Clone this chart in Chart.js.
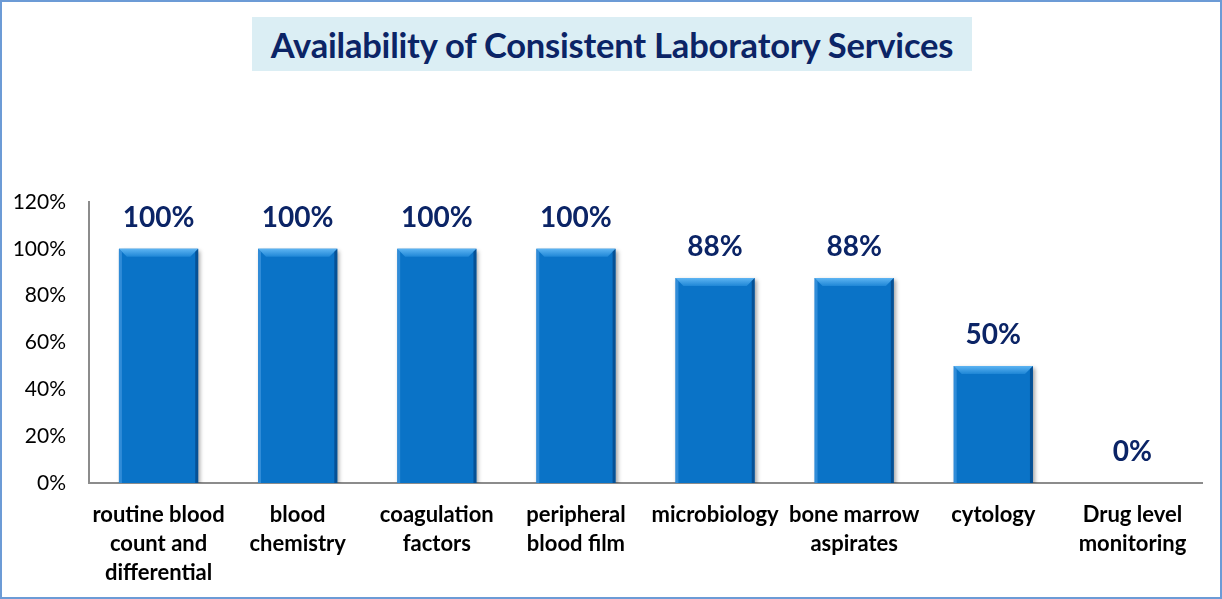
<!DOCTYPE html>
<html>
<head>
<meta charset="utf-8">
<script src="https://cdn.jsdelivr.net/npm/chart.js@4.4.1/dist/chart.umd.min.js"></script>
<style>
  html, body { margin: 0; padding: 0; background: #fff; }
  #wrap { position: relative; width: 1222px; height: 599px; box-sizing: border-box; border: 2px solid #6C9BD6; overflow: hidden; }
  #title { position: absolute; left: 250px; top: 15px; width: 720px; height: 54px; background: #DBEEF4;
           font-family: Lato, "Open Sans", sans-serif; font-weight: bold; font-size: 34.5px; color: #0B2466;
           display: flex; align-items: center; justify-content: center; letter-spacing: -0.2px; }
  canvas { position: absolute; left: -2px; top: -2px; }
</style>
</head>
<body>
<div id="wrap">
  <canvas id="c" width="1222" height="599"></canvas>
  <div id="title">Availability of Consistent Laboratory Services</div>
</div>
<script>
const categories = [
  ["routine blood", "count and", "differential"],
  ["blood", "chemistry"],
  ["coagulation", "factors"],
  ["peripheral", "blood film"],
  "microbiology",
  ["bone marrow", "aspirates"],
  "cytology",
  ["Drug level", "monitoring"]
];
const availability = [100, 100, 100, 100, 87.5, 87.5, 50, 0];
const yTicks = [0, 20, 40, 60, 80, 100, 120];

const FONT = 'Lato, "Open Sans", sans-serif';

const bevelPlugin = {
  id: 'bevel',
  beforeDatasetsDraw(chart) {
    const ctx = chart.ctx;
    ctx.save();
    ctx.shadowColor = 'rgba(0,0,0,0.35)';
    ctx.shadowBlur = 4;
    ctx.shadowOffsetX = 2;
    ctx.shadowOffsetY = 2;
  },
  afterDatasetsDraw(chart) {
    const ctx = chart.ctx;
    ctx.restore();
    const meta = chart.getDatasetMeta(0);
    meta.data.forEach((bar) => {
      const h = bar.base - bar.y;
      if (h <= 1) return;
      const l = bar.x - bar.width / 2, r = bar.x + bar.width / 2, t = bar.y, b = bar.base;
      const bv = Math.min(8, h / 2);
      ctx.save();
      let g = ctx.createLinearGradient(0, t, 0, t + bv);
      g.addColorStop(0, '#5DB4F2');
      g.addColorStop(1, '#1E86D6');
      ctx.fillStyle = g;
      ctx.beginPath();
      ctx.moveTo(l, t); ctx.lineTo(r, t); ctx.lineTo(r - bv, t + bv); ctx.lineTo(l + bv, t + bv); ctx.closePath();
      ctx.fill();
      ctx.fillStyle = 'rgba(80,160,230,0.55)';
      ctx.beginPath();
      ctx.moveTo(l, t); ctx.lineTo(l + 3, t + 3); ctx.lineTo(l + 3, b); ctx.lineTo(l, b); ctx.closePath();
      ctx.fill();
      ctx.fillStyle = 'rgba(0,40,90,0.45)';
      ctx.beginPath();
      ctx.moveTo(r, t); ctx.lineTo(r - 3, t + 3); ctx.lineTo(r - 3, b); ctx.lineTo(r, b); ctx.closePath();
      ctx.fill();
      ctx.restore();
    });
  },
  afterDraw(chart) {
    const ctx = chart.ctx;
    const meta = chart.getDatasetMeta(0);
    ctx.save();
    ctx.font = 'bold 28px ' + FONT;
    ctx.fillStyle = '#0B2466';
    ctx.textAlign = 'center';
    ctx.textBaseline = 'middle';
    meta.data.forEach((bar, i) => {
      ctx.fillText(Math.round(availability[i]) + '%', bar.x, bar.y - 31);
    });
    ctx.restore();
  }
};

new Chart(document.getElementById('c'), {
  type: 'bar',
  data: {
    labels: categories,
    datasets: [{
      data: availability,
      backgroundColor: '#0A73C7',
      borderWidth: 0,
      categoryPercentage: 0.57,
      barPercentage: 1.0
    }]
  },
  options: {
    responsive: false,
    animation: false,
    events: [],
    layout: { padding: { left: 0, right: 20, top: 202, bottom: 0 } },
    plugins: { legend: { display: false }, title: { display: false }, tooltip: { enabled: false } },
    scales: {
      x: {
        grid: { display: false, drawTicks: false },
        border: { display: true, color: '#8C8C8C', width: 2 },
        ticks: {
          autoSkip: false, maxRotation: 0, minRotation: 0, padding: 17,
          color: '#000', font: { family: FONT, size: 22, weight: 'bold', lineHeight: 1.32 }
        },
        afterFit(scale) { scale.height = 116; }
      },
      y: {
        min: 0, max: 120,
        afterBuildTicks(scale) { scale.ticks = yTicks.map(v => ({ value: v })); },
        grid: { display: false, drawTicks: false },
        border: { display: true, color: '#8C8C8C', width: 2 },
        ticks: {
          padding: 23, color: '#000',
          font: { family: FONT, size: 21 },
          callback: (v) => v + '%'
        },
        afterFit(scale) { scale.width = 89; }
      }
    }
  },
  plugins: [bevelPlugin]
});
</script>
</body>
</html>
